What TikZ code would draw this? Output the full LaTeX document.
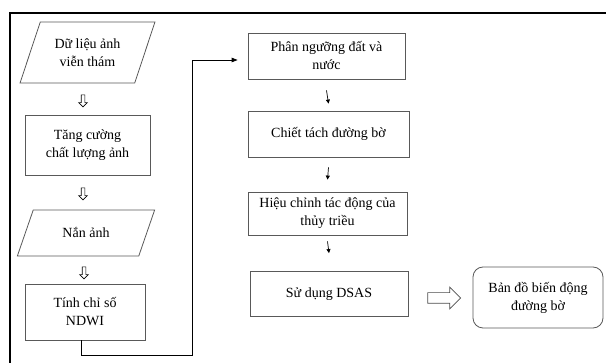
\documentclass[tikz,border=0pt]{standalone}
\usepackage{fontspec}
\setmainfont{Liberation Serif}
\usetikzlibrary{arrows.meta,shapes.geometric,shapes.arrows}

\begin{document}
\begin{tikzpicture}[x=1pt, y=-1pt,
		every node/.style={font=\fontsize{14}{18}\selectfont, align=center},
		stepbox/.style={draw=black!65, line width=0.8pt, inner sep=2pt},
		databox/.style={trapezium, trapezium left angle=#1, trapezium right angle=180-#1, trapezium stretches=true, draw=black!65, line width=0.8pt, inner sep=1pt},
		downsign/.style={single arrow, draw=black, line width=0.6pt, rotate=-90, minimum height=12pt, minimum width=8pt, inner sep=1.5pt, single arrow head extend=2.5pt},
		flowline/.style={line width=0.8pt, -{Triangle[length=6pt,width=4.5pt]}},
		smallline/.style={line width=0.7pt, -{Triangle[length=4pt,width=4pt]}}]
	
	\useasboundingbox (0,0) rectangle (606,363);
	
	% Draw the frame.
	\draw[line width=2.5pt] (10,363) -- (10,13) -- (606,13);
	
	% Draw the left column.
	\node[databox=64, minimum width=135pt, minimum height=61pt] (data) at (87.5,52.5) {Dữ liệu ảnh\\viễn thám};
	\node[downsign] (d1) at (83,100) {};
	\node[stepbox, minimum width=125pt, minimum height=60pt] (enhance) at (87.5,145) {Tăng cường\\chất lượng ảnh};
	\node[downsign] (d2) at (83,193) {};
	\node[databox=59, minimum width=138pt, minimum height=46pt] (rectify) at (86,233) {Nắn ảnh};
	\node[downsign] (d3) at (84,272) {};
	\node[stepbox, minimum width=120pt, minimum height=56pt] (ndwi) at (85,312) {Tính chỉ số\\NDWI};
	
	% Draw the right column.
	\node[stepbox, minimum width=157pt, minimum height=46pt] (thresh) at (326.5,56) {Phân ngưỡng đất và\\nước};
	\node[stepbox, minimum width=161pt, minimum height=46pt] (extract) at (328.5,134) {Chiết tách đường bờ};
	\node[stepbox, minimum width=159pt, minimum height=43pt] (tide) at (327.5,213.5) {Hiệu chỉnh tác động của\\thủy triều};
	\node[stepbox, minimum width=158pt, minimum height=45pt] (dsas) at (329,294) {Sử dụng DSAS};
	
	% Draw the result.
	\node[single arrow, draw=black!70, line width=0.7pt, minimum height=33pt, minimum width=21pt, inner sep=5pt, single arrow head extend=5.5pt] (toresult) at (441.5,298) {};
	\node[stepbox, rounded corners=10pt, minimum width=130pt, minimum height=61pt] (result) at (538,297.5) {Bản đồ biến động\\đường bờ};
	
	% Draw the connectors.
	\coordinate (low) at (192,355);
	\draw[flowline] ([xshift=-4pt]ndwi.south) |- (low) |- ([xshift=-10pt,yshift=-4pt]thresh.west);
	\draw[smallline] ([yshift=-11pt]thresh.south) -- ([yshift=7pt]extract.north);
	\draw[smallline] ([yshift=-10pt]extract.south) -- ([yshift=12pt]tide.north);
	\draw[smallline] ([yshift=-6pt]tide.south) -- ([yshift=18pt]dsas.north);
	
\end{tikzpicture}
\end{document}
